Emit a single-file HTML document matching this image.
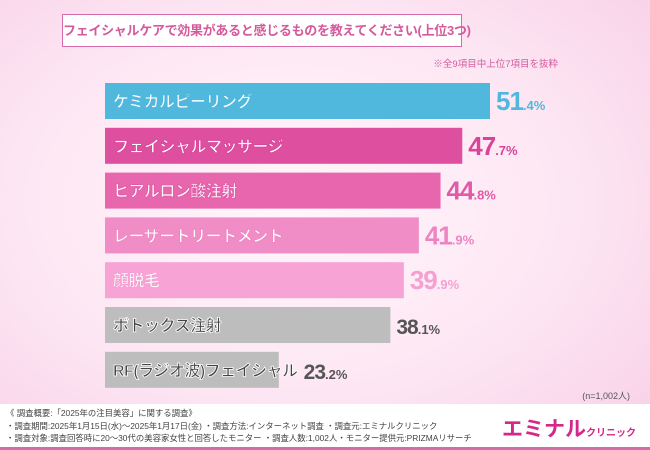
<!DOCTYPE html>
<html><head><meta charset="utf-8"><style>
body{margin:0;width:650px;height:450px;overflow:hidden;font-family:"Liberation Sans","Noto Sans CJK JP",sans-serif;}
#wrap{position:relative;width:650px;height:450px;background:radial-gradient(ellipse at 45% 45%,#fff6fb 0%,#fde6f3 55%,#f8cfe6 100%);}
.title{position:absolute;left:62px;top:14px;width:398px;height:31px;border:1.5px solid #d96aa8;background:#fff;color:#d45a9c;font-size:13px;line-height:31px;text-align:center;font-weight:bold;white-space:nowrap;letter-spacing:-0.3px;}
.note{position:absolute;right:92px;top:56px;font-size:9.5px;color:#d45a9c;}
.n{position:absolute;right:20px;top:389px;font-size:9px;color:#555;}
.footer{position:absolute;left:0;top:404px;width:650px;height:43px;background:#fff;}
.ftxt{position:absolute;left:6px;top:3px;font-size:8.4px;line-height:12.5px;color:#444;white-space:nowrap;}
.logo{position:absolute;right:14px;top:9px;color:#d4288a;font-size:21px;font-weight:bold;}
.logo small{font-size:10px;}
.line{position:absolute;left:0;top:447px;width:650px;height:3px;background:#d96aa8;}
</style></head><body>
<div id="wrap">
<div class="title">フェイシャルケアで効果があると感じるものを教えてください(上位3つ)</div>
<div class="note">※全9項目中上位7項目を抜粋</div>
<svg id="chart" width="650" height="450" style="position:absolute;left:0;top:0"></svg>
<div class="n">(n=1,002人)</div>
<div class="footer">
<div class="ftxt">《 調査概要:「2025年の注目美容」に関する調査》<br>・調査期間:2025年1月15日(水)〜2025年1月17日(金) ・調査方法:インターネット調査 ・調査元:エミナルクリニック<br>・調査対象:調査回答時に20〜30代の美容家女性と回答したモニター ・調査人数:1,002人・モニター提供元:PRIZMAリサーチ</div>
<div class="logo">エミナル<small>クリニック</small></div>
</div>
<div class="line"></div>
</div>
<script>
const categories=["ケミカルピーリング","フェイシャルマッサージ","ヒアルロン酸注射","レーザートリートメント","顔脱毛","ボトックス注射","RF(ラジオ波)フェイシャル"];
const values=[51.4,47.7,44.8,41.9,39.9,38.1,23.2];
const colors=["#4fb8dc","#de4f9f","#e866ad","#f08cc6","#f7a3d6","#bdbdbd","#bdbdbd"];
const valColors=["#4fb8dc","#d9449a","#e05aa8","#ee85c2","#f5a0d2","#555","#555"];
const x0=105,scale=7.49,y0=83,step=44.8,bh=36;
const xs=v=>x0+v*scale, ys=i=>y0+i*step;
const svg=document.getElementById('chart'),NS="http://www.w3.org/2000/svg";
values.forEach((v,i)=>{
 const r=document.createElementNS(NS,'rect');
 r.setAttribute('x',x0);r.setAttribute('y',ys(i));r.setAttribute('width',xs(v)-x0);r.setAttribute('height',bh);r.setAttribute('fill',colors[i]);
 
 
 svg.appendChild(r);
 const t=document.createElementNS(NS,'text');
 t.setAttribute('x',x0+8);t.setAttribute('y',ys(i)+bh/2+6);t.setAttribute('font-size','16');t.setAttribute('font-weight','bold');t.setAttribute('letter-spacing','-0.5');
 t.setAttribute('fill',i<5?'#fff':'#444');t.setAttribute('stroke',i<5?valColors[i]:'#fff');t.setAttribute('stroke-width','0.8');
 t.setAttribute('font-family','"Liberation Sans","Noto Sans CJK JP",sans-serif');
 t.textContent=categories[i];
 
 
 svg.appendChild(t);
 const lblEnd=x0+8+t.getComputedTextLength();
 const s=v.toFixed(1).split('.');
 const vt=document.createElementNS(NS,'text');
 vt.setAttribute('x',Math.max(xs(v),lblEnd)+6);vt.setAttribute('y',ys(i)+bh/2+9);vt.setAttribute('fill',valColors[i]);vt.setAttribute('font-weight','bold');
 vt.setAttribute('font-family','"Liberation Sans Narrow","Liberation Sans",sans-serif');
 vt.innerHTML='<tspan font-size="'+(i<5?26:21)+'" letter-spacing="-1">'+s[0]+'</tspan><tspan font-size="13">.'+s[1]+'%</tspan>';
 
 
 svg.appendChild(vt);
});
</script>
</body></html>
